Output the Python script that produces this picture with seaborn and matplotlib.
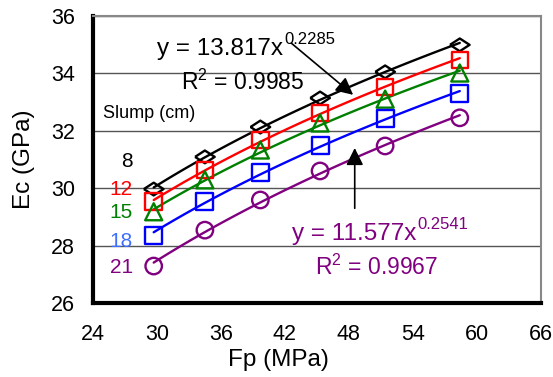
import numpy as np
import pandas as pd
import matplotlib
matplotlib.use("Agg")
import matplotlib.pyplot as plt
import seaborn as sns

# values
fp = [29.7, 34.5, 39.7, 45.3, 51.4, 58.4]
slumps = ["8", "12", "15", "18", "21"]
ec_8 = [29.97, 31.09, 32.13, 33.14, 34.05, 34.99]
ec_12 = [29.53, 30.63, 31.68, 32.62, 33.53, 34.47]
ec_15 = [29.18, 30.29, 31.33, 32.27, 33.10, 34.01]
ec_18 = [28.37, 29.53, 30.56, 31.50, 32.41, 33.28]
ec_21 = [27.29, 28.54, 29.59, 30.60, 31.47, 32.45]
series = [ec_8, ec_12, ec_15, ec_18, ec_21]

colors = ["black", "#ff0000", "#008000", "#0000ff", "#800080"]
label_colors = ["black", "#ff0000", "#008000", "#3f6fff", "#800080"]
wide_diamond = [(-1, 0), (0, 0.65), (1, 0), (0, -0.65), (-1, 0)]
markers = [wide_diamond, "s", "^", "s", "o"]
msizes = [200, 140, 150, 150, 140]

sns.set_style("white")
plt.rcParams["font.family"] = ["Liberation Sans", "DejaVu Sans"]
plt.rcParams["mathtext.fontset"] = "custom"
plt.rcParams["mathtext.rm"] = "Liberation Sans"
plt.rcParams["text.color"] = "black"

fig = plt.figure(figsize=(5.53, 3.77), dpi=100)
ax = fig.add_axes([0.168, 0.196, 0.81, 0.762])

for y, c, m, s in zip(series, colors, markers, msizes):
    df = pd.DataFrame({"Fp": fp, "Ec": y})
    # power trendline fitted on the read values
    b, loga = np.polyfit(np.log(fp), np.log(y), 1)
    xs = np.linspace(fp[0], fp[-1], 50)
    fit = pd.DataFrame({"Fp": xs, "Ec": np.exp(loga) * xs ** b})
    sns.lineplot(data=fit, x="Fp", y="Ec", color=c, lw=1.7, ax=ax, zorder=2)
    sns.scatterplot(data=df, x="Fp", y="Ec", marker=m, s=s, facecolor="none",
                    edgecolor=c, linewidth=1.7, ax=ax, zorder=3)

ax.set_xlim(24, 66)
ax.set_ylim(26, 36)
ax.set_xticks(np.arange(24, 67, 6))
ax.set_yticks(np.arange(26, 37, 2))
ax.yaxis.grid(True, color="#555555", lw=1)
ax.set_axisbelow(True)
for side in ["top", "right"]:
    ax.spines[side].set_color("#888888")
    ax.spines[side].set_linewidth(1.5)
for side in ["left", "bottom"]:
    ax.spines[side].set_color("black")
    ax.spines[side].set_linewidth(3)
ax.tick_params(direction="inout", length=6, width=3, labelsize=15.5,
               colors="black", labelcolor="black")
ax.tick_params(axis="x", pad=12)
ax.tick_params(axis="y", pad=10)
ax.set_xlabel("Fp (MPa)", fontsize=17.5, color="black")
ax.set_ylabel("Ec (GPa)", fontsize=17.5, color="black")
ax.xaxis.set_label_coords(0.415, -0.16)
ax.yaxis.set_label_coords(-0.13, 0.5)

# fit equations with separate exponents
def equation(x, y, base, expo, r2x, r2y, r2, color):
    t = ax.text(x, y, base, fontsize=17.5, color=color, va="baseline")
    ax.annotate(expo, xy=(1, 1), xycoords=t, xytext=(1, 4), textcoords="offset points",
                fontsize=12, color=color, va="top", ha="left")
    ax.text(r2x, r2y, r"R$^2$ = " + r2, fontsize=16.5, color=color, va="baseline")

equation(30.0, 34.64, "y = 13.817x", "0.2285", 32.3, 33.42, "0.9985", "black")
equation(42.65, 28.2, "y = 11.577x", "0.2541", 44.8, 26.98, "0.9967", "#800080")

ax.annotate("", xy=(48.4, 33.25), xytext=(42.6, 35.05),
            arrowprops=dict(arrowstyle="-|>", color="black", lw=1.2,
                            mutation_scale=26, shrinkA=0, shrinkB=0))
ax.annotate("", xy=(48.55, 31.4), xytext=(48.55, 29.3),
            arrowprops=dict(arrowstyle="-|>", color="black", lw=1.2,
                            mutation_scale=26, shrinkA=0, shrinkB=0))
ax.text(24.94, 32.45, "Slump (cm)", fontsize=13, va="baseline")
label_y = [30.74, 29.76, 28.96, 27.95, 27.05]
for t, c, yy in zip(slumps, label_colors, label_y):
    ax.text(27.75, yy, t, color=c, fontsize=15, ha="right", va="baseline")

fig.savefig("out.png", dpi=100)
